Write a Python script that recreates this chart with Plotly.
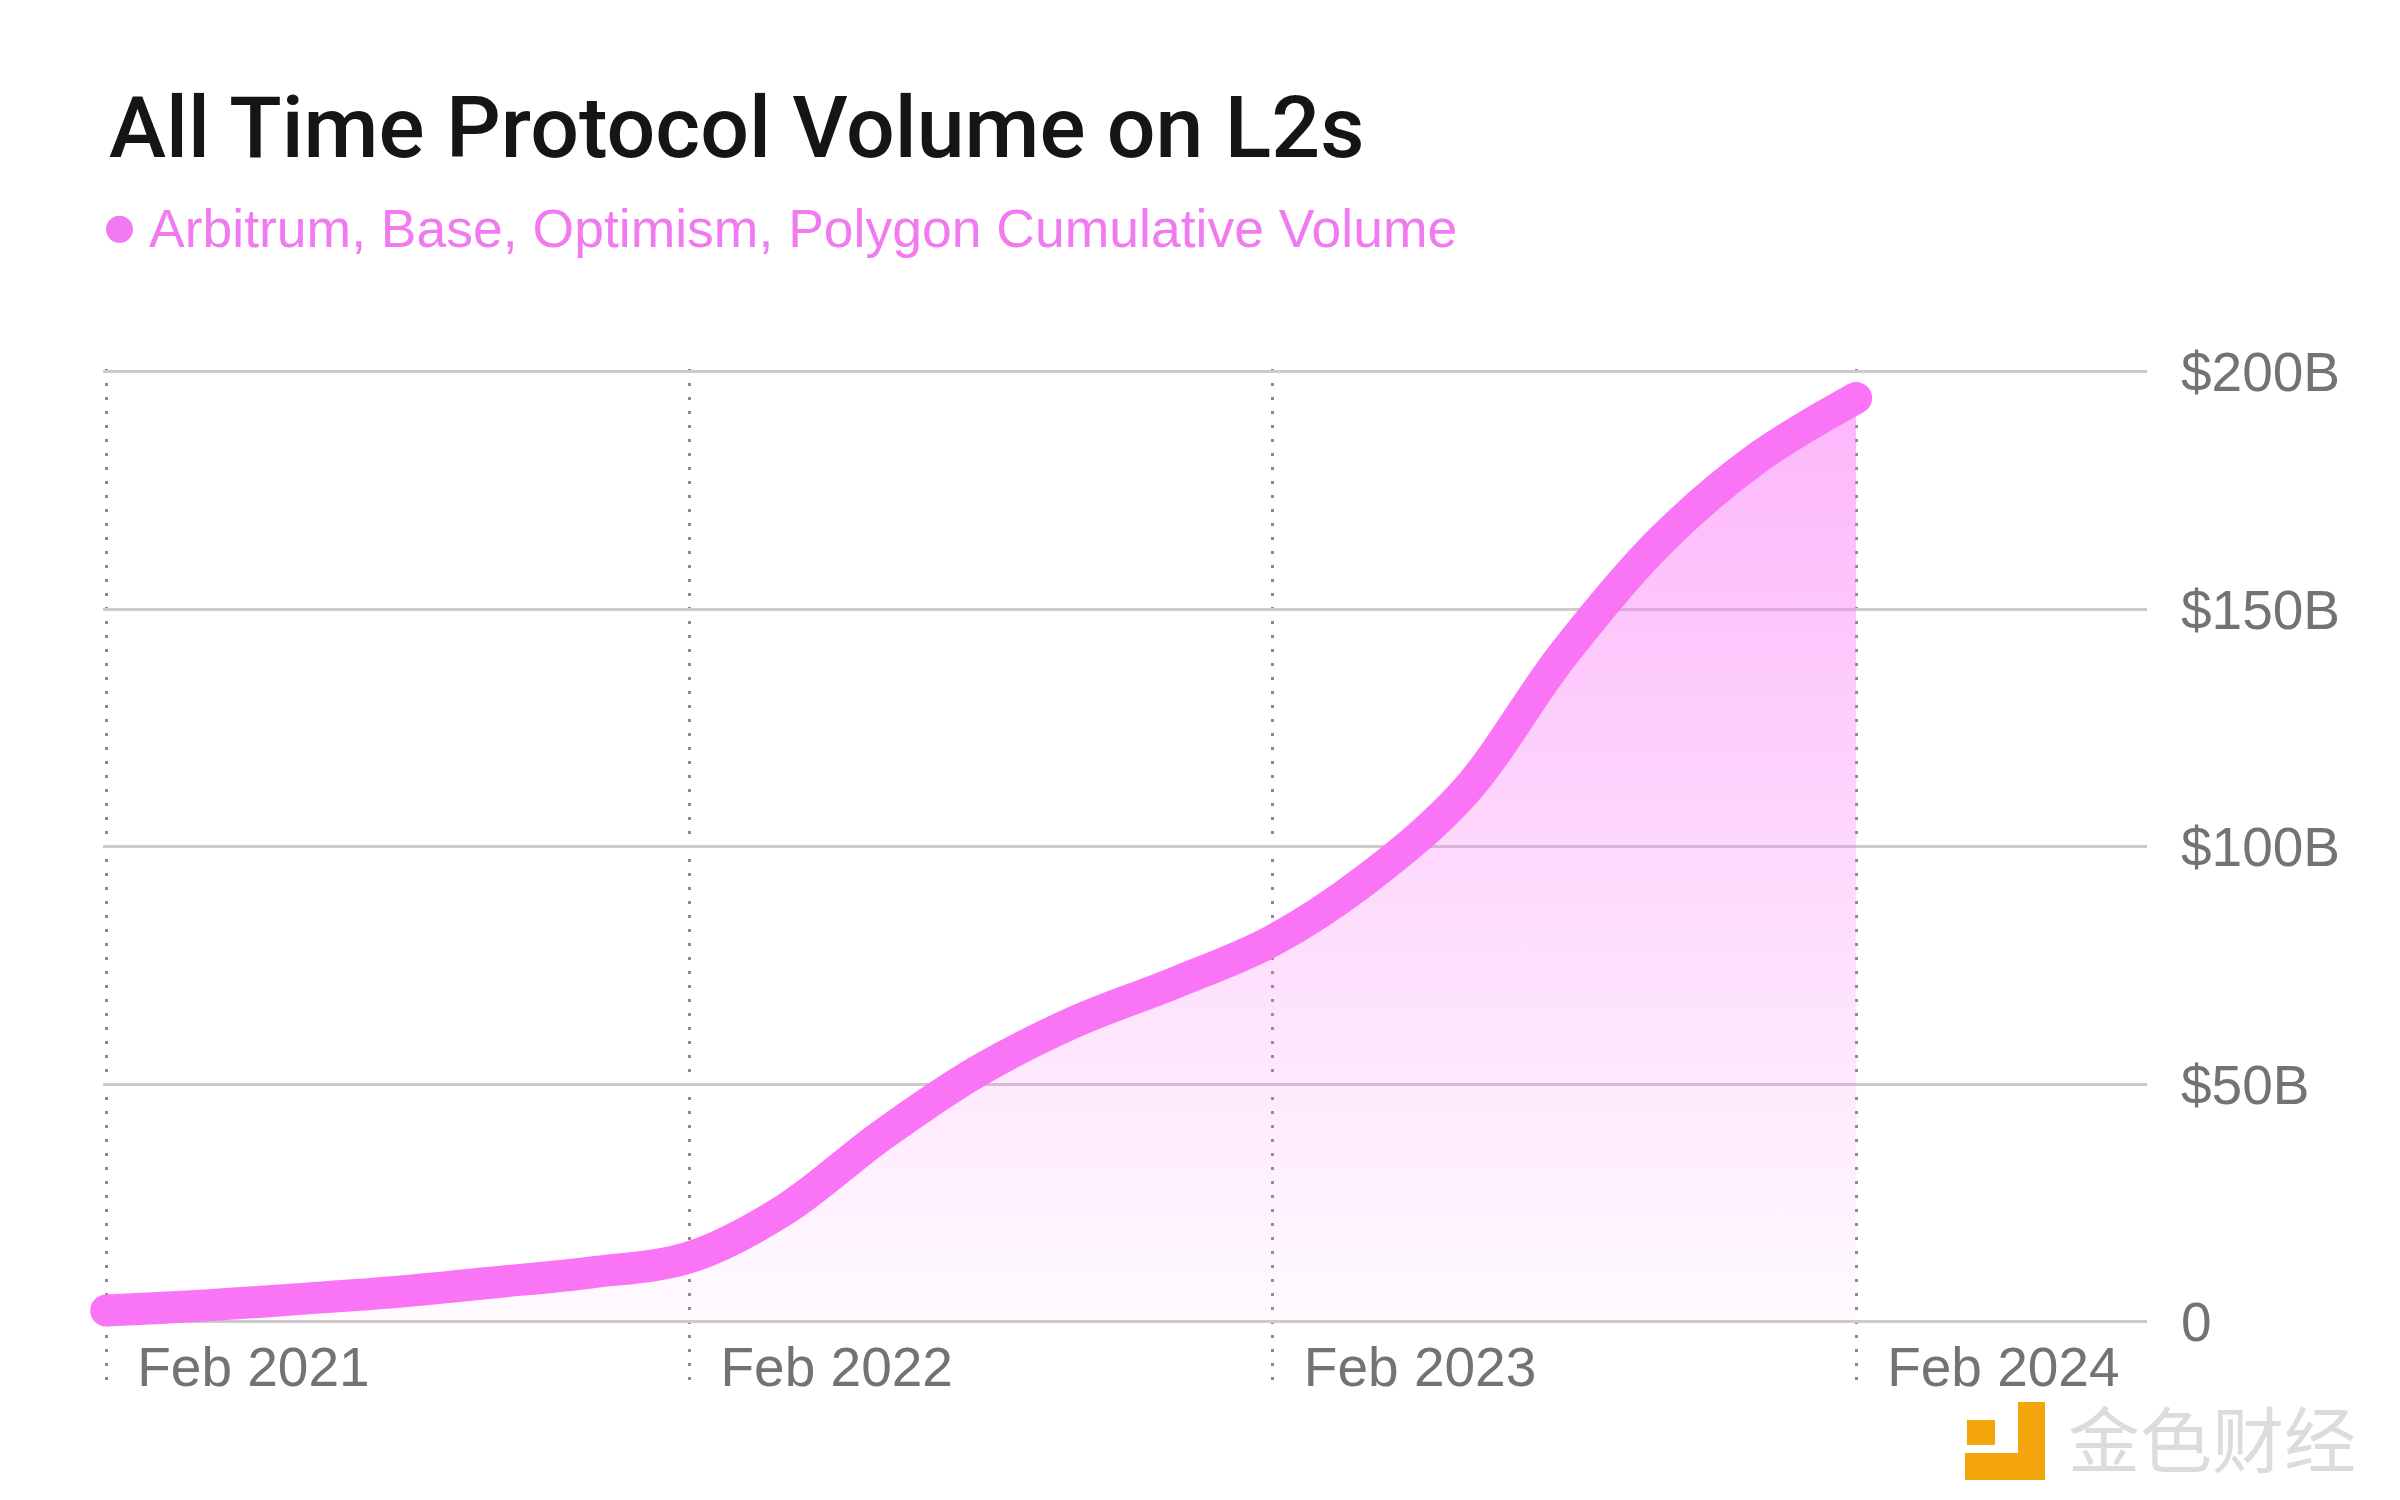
import plotly.graph_objects as go

# ---------------- data ----------------
dates = [
    "2021-02-01", "2021-04-01", "2021-06-01", "2021-08-01", "2021-10-01",
    "2021-12-01", "2022-02-01", "2022-04-01", "2022-06-01", "2022-08-01",
    "2022-10-01", "2022-12-01", "2023-02-01", "2023-04-01", "2023-06-01",
    "2023-08-01", "2023-10-01", "2023-12-01", "2024-02-01",
]
volume_b = [
    2.4, 3.4, 4.8, 6.3, 8.3,
    10.4, 13.6, 23.5, 39.2, 52.9,
    63.3, 71.3, 80.3, 93.3, 111.5,
    140.2, 164.2, 181.8, 194.5,
]
x_tick_dates = ["2021-02-01", "2022-02-01", "2023-02-01", "2024-02-01"]
x_tick_labels = ["Feb 2021", "Feb 2022", "Feb 2023", "Feb 2024"]
y_tick_values = [0, 50, 100, 150, 200]
y_tick_labels = ["0", "$50B", "$100B", "$150B", "$200B"]
x_range = ["2021-01-30", "2024-08-01"]
y_range = [-13.7, 200.6]

title_text = "All Time Protocol Volume on L2s"
series_name = "Arbitrum, Base, Optimism, Polygon Cumulative Volume"
watermark_text = "金色财经"

# ---------------- layout geometry ----------------
OFF = 8                      # page body margin in the browser
W, H = 2400 - 2 * OFF, 1500 - 2 * OFF
# page pixel positions of reference values
Y0_PAGE, Y200_PAGE = 1322, 372
PX_PER_B = (Y0_PAGE - Y200_PAGE) / 200.0
TOP_PAGE = Y200_PAGE - (y_range[1] - 200) * PX_PER_B
BOT_PAGE = Y0_PAGE - y_range[0] * PX_PER_B
LEFT_PAGE, RIGHT_PAGE = 103, 2147

L = LEFT_PAGE - OFF
R = RIGHT_PAGE - OFF
T = TOP_PAGE - OFF
B = BOT_PAGE - OFF
PW, PH = R - L, B - T

PINK = "#fa75f6"
SUB_PINK = "#f27af0"
FONT = "Liberation Sans, Arial, sans-serif"
TITLE_FONT = "Roboto, Liberation Sans, Arial, sans-serif"
GRAY_TXT = "#737373"


def px_x(X):
    """page x pixel -> paper coordinate"""
    return (X - OFF - L) / PW


def px_y(Y):
    """page y pixel -> paper coordinate"""
    return (B - (Y - OFF)) / PH


fig = go.Figure()

fig.add_trace(go.Scatter(
    x=dates, y=volume_b, name=series_name, mode="lines",
    line=dict(color=PINK, width=32, shape="spline", smoothing=1.0),
    fill="tozeroy",
    fillgradient=dict(
        type="vertical",
        colorscale=[[0, "rgba(250,117,246,0.03)"], [1, "rgba(250,117,246,0.53)"]],
        start=0, stop=195,
    ),
    showlegend=False, hoverinfo="skip",
))
# round end caps
fig.add_trace(go.Scatter(
    x=[dates[0], dates[-1]], y=[volume_b[0], volume_b[-1]],
    mode="markers", marker=dict(color=PINK, size=32, line=dict(width=0)),
    cliponaxis=False, showlegend=False, hoverinfo="skip",
))

annotations = [
    dict(text=title_text, xref="paper", yref="paper", x=px_x(107), y=px_y(128),
         xanchor="left", yanchor="middle", showarrow=False,
         font=dict(family=TITLE_FONT, size=86, color="#151515", weight=500)),
    dict(text=series_name, xref="paper", yref="paper", x=px_x(147), y=px_y(229),
         xanchor="left", yanchor="middle", showarrow=False,
         font=dict(family=FONT, size=53.5, color=SUB_PINK)),
    dict(text=watermark_text, xref="paper", yref="paper", x=px_x(2066), y=px_y(1436),
         xanchor="left", yanchor="middle", showarrow=False,
         font=dict(family="Noto Sans CJK SC", size=72, color="#dcdcdc")),
]

shapes = [
    # legend dot
    dict(type="circle", xref="paper", yref="paper",
         x0=px_x(106), x1=px_x(133), y0=px_y(243), y1=px_y(216),
         fillcolor=SUB_PINK, line=dict(width=0)),
    # watermark logo
    dict(type="rect", xref="paper", yref="paper",
         x0=px_x(2018), x1=px_x(2045), y0=px_y(1480), y1=px_y(1402),
         fillcolor="#f4a50c", line=dict(width=0)),
    dict(type="rect", xref="paper", yref="paper",
         x0=px_x(1965), x1=px_x(2045), y0=px_y(1480), y1=px_y(1453),
         fillcolor="#f4a50c", line=dict(width=0)),
    dict(type="rect", xref="paper", yref="paper",
         x0=px_x(1967), x1=px_x(1995), y0=px_y(1445), y1=px_y(1420),
         fillcolor="#f4a50c", line=dict(width=0)),
]

fig.update_layout(
    width=W, height=H, autosize=False,
    margin=dict(l=L, r=W - R, t=T, b=H - B, pad=0),
    paper_bgcolor="white", plot_bgcolor="white",
    showlegend=False,
    annotations=annotations, shapes=shapes,
    xaxis=dict(
        type="date", range=x_range,
        tickmode="array", tickvals=x_tick_dates, ticktext=x_tick_labels,
        showgrid=True, gridcolor="#8c8c8c", gridwidth=3, griddash="3px,11px",
        zeroline=False, showline=False, ticks="",
        ticklabelposition="inside right",
        ticklabelshift=31, ticklabelstandoff=-16,
        tickfont=dict(family=FONT, size=55, color=GRAY_TXT),
    ),
    yaxis=dict(
        range=y_range, side="right",
        tickmode="array", tickvals=y_tick_values, ticktext=y_tick_labels,
        showgrid=True, gridcolor="#cbcbcb", gridwidth=3,
        zeroline=True, zerolinecolor="#cbcbcb", zerolinewidth=3,
        showline=False, ticks="",
        ticklabelstandoff=33,
        tickfont=dict(family=FONT, size=55, color=GRAY_TXT),
    ),
)

fig.write_html("out.html")
